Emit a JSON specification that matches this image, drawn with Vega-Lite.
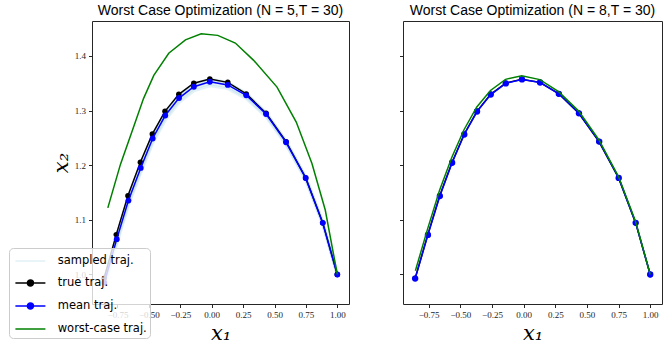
{
  "$schema": "https://vega.github.io/schema/vega-lite/v6.json",
  "background": "white",
  "padding": {"left": 8, "top": 3, "right": 4, "bottom": 2},
  "spacing": 48,
  "config": {
    "view": {"stroke": "#262626", "strokeWidth": 1},
    "axis": {"grid": false, "domain": false, "tickColor": "#262626", "tickSize": 3.5, "tickWidth": 1, "labelFont": "Liberation Serif", "labelFontSize": 9, "labelColor": "#262626", "titleFont": "DejaVu Serif", "titleFontStyle": "italic", "titleFontWeight": "normal", "titleFontSize": 21, "titleColor": "black"},
    "title": {"font": "Liberation Sans", "fontSize": 14, "fontWeight": "normal", "color": "black", "offset": 3, "anchor": "middle"}
  },
  "resolve": {"scale": {"color": "independent", "x": "independent", "y": "independent"}, "legend": {"color": "independent"}},
  "datasets": {
    "d": [
      {"p":"L","s":"true traj.","r":"t","i":0,"x":-0.857,"y":0.993},
      {"p":"L","s":"true traj.","r":"t","i":1,"x":-0.760,"y":1.073},
      {"p":"L","s":"true traj.","r":"t","i":2,"x":-0.667,"y":1.144},
      {"p":"L","s":"true traj.","r":"t","i":3,"x":-0.568,"y":1.2055},
      {"p":"L","s":"true traj.","r":"t","i":4,"x":-0.473,"y":1.257},
      {"p":"L","s":"true traj.","r":"t","i":5,"x":-0.372,"y":1.2987},
      {"p":"L","s":"true traj.","r":"t","i":6,"x":-0.262,"y":1.3298},
      {"p":"L","s":"true traj.","r":"t","i":7,"x":-0.143,"y":1.3502},
      {"p":"L","s":"true traj.","r":"t","i":8,"x":-0.015,"y":1.3578},
      {"p":"L","s":"true traj.","r":"t","i":9,"x":0.128,"y":1.3517},
      {"p":"L","s":"true traj.","r":"t","i":10,"x":0.275,"y":1.3306},
      {"p":"L","s":"true traj.","r":"t","i":11,"x":0.433,"y":1.2951},
      {"p":"L","s":"true traj.","r":"t","i":12,"x":0.592,"y":1.2432},
      {"p":"L","s":"true traj.","r":"t","i":13,"x":0.748,"y":1.1768},
      {"p":"L","s":"true traj.","r":"t","i":14,"x":0.884,"y":1.0945},
      {"p":"L","s":"true traj.","r":"t","i":15,"x":1.0,"y":1.0},

      {"p":"L","s":"mean traj.","r":"m","i":0,"x":-0.855,"y":0.985},
      {"p":"L","s":"mean traj.","r":"m","i":1,"x":-0.756,"y":1.0647},
      {"p":"L","s":"mean traj.","r":"m","i":2,"x":-0.663,"y":1.1353},
      {"p":"L","s":"mean traj.","r":"m","i":3,"x":-0.565,"y":1.1951},
      {"p":"L","s":"mean traj.","r":"m","i":4,"x":-0.470,"y":1.249},
      {"p":"L","s":"mean traj.","r":"m","i":5,"x":-0.370,"y":1.291},
      {"p":"L","s":"mean traj.","r":"m","i":6,"x":-0.260,"y":1.323},
      {"p":"L","s":"mean traj.","r":"m","i":7,"x":-0.142,"y":1.3437},
      {"p":"L","s":"mean traj.","r":"m","i":8,"x":-0.015,"y":1.3528},
      {"p":"L","s":"mean traj.","r":"m","i":9,"x":0.128,"y":1.347},
      {"p":"L","s":"mean traj.","r":"m","i":10,"x":0.275,"y":1.328},
      {"p":"L","s":"mean traj.","r":"m","i":11,"x":0.433,"y":1.2937},
      {"p":"L","s":"mean traj.","r":"m","i":12,"x":0.592,"y":1.242},
      {"p":"L","s":"mean traj.","r":"m","i":13,"x":0.748,"y":1.1768},
      {"p":"L","s":"mean traj.","r":"m","i":14,"x":0.884,"y":1.0945},
      {"p":"L","s":"mean traj.","r":"m","i":15,"x":1.0,"y":1.0},

      {"p":"L","s":"worst-case traj.","r":"w","i":0,"x":-0.827,"y":1.122},
      {"p":"L","s":"worst-case traj.","r":"w","i":1,"x":-0.726,"y":1.202},
      {"p":"L","s":"worst-case traj.","r":"w","i":2,"x":-0.622,"y":1.270},
      {"p":"L","s":"worst-case traj.","r":"w","i":3,"x":-0.543,"y":1.322},
      {"p":"L","s":"worst-case traj.","r":"w","i":4,"x":-0.461,"y":1.3645},
      {"p":"L","s":"worst-case traj.","r":"w","i":5,"x":-0.342,"y":1.405},
      {"p":"L","s":"worst-case traj.","r":"w","i":6,"x":-0.209,"y":1.4296},
      {"p":"L","s":"worst-case traj.","r":"w","i":7,"x":-0.084,"y":1.4406},
      {"p":"L","s":"worst-case traj.","r":"w","i":8,"x":0.048,"y":1.4377},
      {"p":"L","s":"worst-case traj.","r":"w","i":9,"x":0.188,"y":1.4236},
      {"p":"L","s":"worst-case traj.","r":"w","i":10,"x":0.334,"y":1.392},
      {"p":"L","s":"worst-case traj.","r":"w","i":11,"x":0.520,"y":1.343},
      {"p":"L","s":"worst-case traj.","r":"w","i":12,"x":0.673,"y":1.279},
      {"p":"L","s":"worst-case traj.","r":"w","i":13,"x":0.798,"y":1.203},
      {"p":"L","s":"worst-case traj.","r":"w","i":14,"x":0.904,"y":1.118},
      {"p":"L","s":"worst-case traj.","r":"w","i":15,"x":1.0,"y":1.0},

      {"p":"L","s":"sampled traj.","r":"s1","i":0,"x":-0.860,"y":0.970},
      {"p":"L","s":"sampled traj.","r":"s1","i":1,"x":-0.756,"y":1.0557},
      {"p":"L","s":"sampled traj.","r":"s1","i":2,"x":-0.663,"y":1.1263},
      {"p":"L","s":"sampled traj.","r":"s1","i":3,"x":-0.565,"y":1.1861},
      {"p":"L","s":"sampled traj.","r":"s1","i":4,"x":-0.470,"y":1.240},
      {"p":"L","s":"sampled traj.","r":"s1","i":5,"x":-0.370,"y":1.282},
      {"p":"L","s":"sampled traj.","r":"s1","i":6,"x":-0.260,"y":1.3148},
      {"p":"L","s":"sampled traj.","r":"s1","i":7,"x":-0.142,"y":1.3362},
      {"p":"L","s":"sampled traj.","r":"s1","i":8,"x":-0.015,"y":1.3453},
      {"p":"L","s":"sampled traj.","r":"s1","i":9,"x":0.128,"y":1.3403},
      {"p":"L","s":"sampled traj.","r":"s1","i":10,"x":0.275,"y":1.322},
      {"p":"L","s":"sampled traj.","r":"s1","i":11,"x":0.433,"y":1.2885},
      {"p":"L","s":"sampled traj.","r":"s1","i":12,"x":0.592,"y":1.2375},
      {"p":"L","s":"sampled traj.","r":"s1","i":13,"x":0.748,"y":1.1731},
      {"p":"L","s":"sampled traj.","r":"s1","i":14,"x":0.884,"y":1.0915},
      {"p":"L","s":"sampled traj.","r":"s1","i":15,"x":1.0,"y":1.0},

      {"p":"L","s":"sampled traj.","r":"s2","i":0,"x":-0.858,"y":0.978},
      {"p":"L","s":"sampled traj.","r":"s2","i":1,"x":-0.756,"y":1.0605},
      {"p":"L","s":"sampled traj.","r":"s2","i":2,"x":-0.663,"y":1.1311},
      {"p":"L","s":"sampled traj.","r":"s2","i":3,"x":-0.565,"y":1.1909},
      {"p":"L","s":"sampled traj.","r":"s2","i":4,"x":-0.470,"y":1.2448},
      {"p":"L","s":"sampled traj.","r":"s2","i":5,"x":-0.370,"y":1.2868},
      {"p":"L","s":"sampled traj.","r":"s2","i":6,"x":-0.260,"y":1.3191},
      {"p":"L","s":"sampled traj.","r":"s2","i":7,"x":-0.142,"y":1.3402},
      {"p":"L","s":"sampled traj.","r":"s2","i":8,"x":-0.015,"y":1.3493},
      {"p":"L","s":"sampled traj.","r":"s2","i":9,"x":0.128,"y":1.3438},
      {"p":"L","s":"sampled traj.","r":"s2","i":10,"x":0.275,"y":1.3252},
      {"p":"L","s":"sampled traj.","r":"s2","i":11,"x":0.433,"y":1.2912},
      {"p":"L","s":"sampled traj.","r":"s2","i":12,"x":0.592,"y":1.2399},
      {"p":"L","s":"sampled traj.","r":"s2","i":13,"x":0.748,"y":1.175},
      {"p":"L","s":"sampled traj.","r":"s2","i":14,"x":0.884,"y":1.0931},
      {"p":"L","s":"sampled traj.","r":"s2","i":15,"x":1.0,"y":1.0},

      {"p":"L","s":"sampled traj.","r":"s3","i":0,"x":-0.853,"y":0.989},
      {"p":"L","s":"sampled traj.","r":"s3","i":1,"x":-0.756,"y":1.0671},
      {"p":"L","s":"sampled traj.","r":"s3","i":2,"x":-0.663,"y":1.1377},
      {"p":"L","s":"sampled traj.","r":"s3","i":3,"x":-0.565,"y":1.1975},
      {"p":"L","s":"sampled traj.","r":"s3","i":4,"x":-0.470,"y":1.2514},
      {"p":"L","s":"sampled traj.","r":"s3","i":5,"x":-0.370,"y":1.2934},
      {"p":"L","s":"sampled traj.","r":"s3","i":6,"x":-0.260,"y":1.3252},
      {"p":"L","s":"sampled traj.","r":"s3","i":7,"x":-0.142,"y":1.3457},
      {"p":"L","s":"sampled traj.","r":"s3","i":8,"x":-0.015,"y":1.3548},
      {"p":"L","s":"sampled traj.","r":"s3","i":9,"x":0.128,"y":1.3488},
      {"p":"L","s":"sampled traj.","r":"s3","i":10,"x":0.275,"y":1.3296},
      {"p":"L","s":"sampled traj.","r":"s3","i":11,"x":0.433,"y":1.2951},
      {"p":"L","s":"sampled traj.","r":"s3","i":12,"x":0.592,"y":1.2432},
      {"p":"L","s":"sampled traj.","r":"s3","i":13,"x":0.748,"y":1.1778},
      {"p":"L","s":"sampled traj.","r":"s3","i":14,"x":0.884,"y":1.0953},
      {"p":"L","s":"sampled traj.","r":"s3","i":15,"x":1.0,"y":1.0},

      {"p":"L","s":"sampled traj.","r":"s4","i":0,"x":-0.850,"y":0.995},
      {"p":"L","s":"sampled traj.","r":"s4","i":1,"x":-0.756,"y":1.0707},
      {"p":"L","s":"sampled traj.","r":"s4","i":2,"x":-0.663,"y":1.1413},
      {"p":"L","s":"sampled traj.","r":"s4","i":3,"x":-0.565,"y":1.2011},
      {"p":"L","s":"sampled traj.","r":"s4","i":4,"x":-0.470,"y":1.255},
      {"p":"L","s":"sampled traj.","r":"s4","i":5,"x":-0.370,"y":1.297},
      {"p":"L","s":"sampled traj.","r":"s4","i":6,"x":-0.260,"y":1.3285},
      {"p":"L","s":"sampled traj.","r":"s4","i":7,"x":-0.142,"y":1.3487},
      {"p":"L","s":"sampled traj.","r":"s4","i":8,"x":-0.015,"y":1.3578},
      {"p":"L","s":"sampled traj.","r":"s4","i":9,"x":0.128,"y":1.3515},
      {"p":"L","s":"sampled traj.","r":"s4","i":10,"x":0.275,"y":1.332},
      {"p":"L","s":"sampled traj.","r":"s4","i":11,"x":0.433,"y":1.2972},
      {"p":"L","s":"sampled traj.","r":"s4","i":12,"x":0.592,"y":1.245},
      {"p":"L","s":"sampled traj.","r":"s4","i":13,"x":0.748,"y":1.1793},
      {"p":"L","s":"sampled traj.","r":"s4","i":14,"x":0.884,"y":1.0965},
      {"p":"L","s":"sampled traj.","r":"s4","i":15,"x":1.0,"y":1.0},

      {"p":"R","s":"true traj.","r":"t","i":0,"x":-0.857,"y":0.993},
      {"p":"R","s":"true traj.","r":"t","i":1,"x":-0.757,"y":1.073},
      {"p":"R","s":"true traj.","r":"t","i":2,"x":-0.663,"y":1.144},
      {"p":"R","s":"true traj.","r":"t","i":3,"x":-0.566,"y":1.2050},
      {"p":"R","s":"true traj.","r":"t","i":4,"x":-0.470,"y":1.2567},
      {"p":"R","s":"true traj.","r":"t","i":5,"x":-0.369,"y":1.2987},
      {"p":"R","s":"true traj.","r":"t","i":6,"x":-0.261,"y":1.3298},
      {"p":"R","s":"true traj.","r":"t","i":7,"x":-0.142,"y":1.3502},
      {"p":"R","s":"true traj.","r":"t","i":8,"x":-0.014,"y":1.3575},
      {"p":"R","s":"true traj.","r":"t","i":9,"x":0.129,"y":1.3517},
      {"p":"R","s":"true traj.","r":"t","i":10,"x":0.277,"y":1.3309},
      {"p":"R","s":"true traj.","r":"t","i":11,"x":0.436,"y":1.2951},
      {"p":"R","s":"true traj.","r":"t","i":12,"x":0.595,"y":1.2433},
      {"p":"R","s":"true traj.","r":"t","i":13,"x":0.750,"y":1.1768},
      {"p":"R","s":"true traj.","r":"t","i":14,"x":0.885,"y":1.0945},
      {"p":"R","s":"true traj.","r":"t","i":15,"x":1.0,"y":1.0},

      {"p":"R","s":"mean traj.","r":"m","i":0,"x":-0.857,"y":0.9925},
      {"p":"R","s":"mean traj.","r":"m","i":1,"x":-0.756,"y":1.0725},
      {"p":"R","s":"mean traj.","r":"m","i":2,"x":-0.662,"y":1.1435},
      {"p":"R","s":"mean traj.","r":"m","i":3,"x":-0.565,"y":1.2045},
      {"p":"R","s":"mean traj.","r":"m","i":4,"x":-0.469,"y":1.2563},
      {"p":"R","s":"mean traj.","r":"m","i":5,"x":-0.368,"y":1.2983},
      {"p":"R","s":"mean traj.","r":"m","i":6,"x":-0.260,"y":1.3294},
      {"p":"R","s":"mean traj.","r":"m","i":7,"x":-0.141,"y":1.3498},
      {"p":"R","s":"mean traj.","r":"m","i":8,"x":-0.013,"y":1.3571},
      {"p":"R","s":"mean traj.","r":"m","i":9,"x":0.130,"y":1.3514},
      {"p":"R","s":"mean traj.","r":"m","i":10,"x":0.278,"y":1.3307},
      {"p":"R","s":"mean traj.","r":"m","i":11,"x":0.437,"y":1.2950},
      {"p":"R","s":"mean traj.","r":"m","i":12,"x":0.597,"y":1.2433},
      {"p":"R","s":"mean traj.","r":"m","i":13,"x":0.751,"y":1.1768},
      {"p":"R","s":"mean traj.","r":"m","i":14,"x":0.885,"y":1.0945},
      {"p":"R","s":"mean traj.","r":"m","i":15,"x":1.0,"y":1.0},

      {"p":"R","s":"worst-case traj.","r":"w","i":0,"x":-0.855,"y":1.007},
      {"p":"R","s":"worst-case traj.","r":"w","i":1,"x":-0.758,"y":1.084},
      {"p":"R","s":"worst-case traj.","r":"w","i":2,"x":-0.664,"y":1.154},
      {"p":"R","s":"worst-case traj.","r":"w","i":3,"x":-0.567,"y":1.2145},
      {"p":"R","s":"worst-case traj.","r":"w","i":4,"x":-0.471,"y":1.265},
      {"p":"R","s":"worst-case traj.","r":"w","i":5,"x":-0.370,"y":1.3067},
      {"p":"R","s":"worst-case traj.","r":"w","i":6,"x":-0.262,"y":1.3368},
      {"p":"R","s":"worst-case traj.","r":"w","i":7,"x":-0.143,"y":1.3572},
      {"p":"R","s":"worst-case traj.","r":"w","i":8,"x":-0.015,"y":1.3638},
      {"p":"R","s":"worst-case traj.","r":"w","i":9,"x":0.128,"y":1.3567},
      {"p":"R","s":"worst-case traj.","r":"w","i":10,"x":0.276,"y":1.3346},
      {"p":"R","s":"worst-case traj.","r":"w","i":11,"x":0.435,"y":1.2991},
      {"p":"R","s":"worst-case traj.","r":"w","i":12,"x":0.595,"y":1.2462},
      {"p":"R","s":"worst-case traj.","r":"w","i":13,"x":0.750,"y":1.1788},
      {"p":"R","s":"worst-case traj.","r":"w","i":14,"x":0.885,"y":1.0965},
      {"p":"R","s":"worst-case traj.","r":"w","i":15,"x":1.0,"y":1.0}
    ]
  },
  "hconcat": [
    {
      "width": 257,
      "height": 283,
      "title": "Worst Case Optimization (N = 5,T = 30)",
      "data": {"name": "d"},
      "transform": [{"filter": "datum.p === 'L'"}],
      "encoding": {
        "x": {"field": "x", "type": "quantitative", "scale": {"domain": [-0.953, 1.093], "nice": false, "zero": false},
              "axis": {"values": [-0.75, -0.5, -0.25, 0, 0.25, 0.5, 0.75, 1], "format": ".2f", "title": "x₁", "labelPadding": 3, "titlePadding": 3}},
        "y": {"field": "y", "type": "quantitative", "scale": {"domain": [0.946, 1.464], "nice": false, "zero": false},
              "axis": {"values": [1.0, 1.1, 1.2, 1.3, 1.4], "format": ".1f", "title": "x₂", "titleAngle": -90, "titleBaseline": "bottom", "labelPadding": 3, "titlePadding": 3}},
        "order": {"field": "i", "type": "quantitative"},
        "detail": {"field": "r", "type": "nominal"},
        "color": {"field": "s", "type": "nominal",
          "scale": {"domain": ["sampled traj.", "true traj.", "mean traj.", "worst-case traj."], "range": ["#add8e6", "#000000", "#0000ff", "#008000"]},
          "legend": {
            "title": null, "orient": "none", "legendX": -83, "legendY": 227,
            "padding": 3, "symbolSize": 324, "rowPadding": 6, "labelOffset": 25.7,
            "labelFont": "DejaVu Sans", "labelFontSize": 11.5, "labelColor": "black", "labelLimit": 300,
            "fillColor": "rgba(255,255,255,0.8)", "strokeColor": "#cccccc", "cornerRadius": 4,
            "encode": {"symbols": {"update": {
              "shape": {"signal": "(datum.value === 'true traj.' || datum.value === 'mean traj.') ? 'M-0.733,0L2.6,0M0.6,0A0.333,0.333,0,1,1,1.267,0A0.333,0.333,0,1,1,0.6,0Z' : 'M-0.733,0L2.6,0'"},
              "fill": {"signal": "datum.value === 'true traj.' ? '#000000' : datum.value === 'mean traj.' ? '#0000ff' : 'transparent'"},
              "stroke": {"signal": "datum.value === 'sampled traj.' ? '#add8e6' : datum.value === 'true traj.' ? '#000000' : datum.value === 'mean traj.' ? '#0000ff' : '#008000'"},
              "opacity": {"signal": "datum.value === 'sampled traj.' ? 0.35 : 1"},
              "strokeWidth": {"value": 1.5}
            }}}
          }
        }
      },
      "layer": [
        {"transform": [{"filter": "datum.s === 'sampled traj.'"}], "mark": {"type": "line", "strokeWidth": 3, "opacity": 0.35}},
        {"transform": [{"filter": "datum.s === 'true traj.'"}], "mark": {"type": "line", "strokeWidth": 1.5, "point": {"filled": true, "size": 30}}},
        {"transform": [{"filter": "datum.s === 'mean traj.'"}], "mark": {"type": "line", "strokeWidth": 1.5, "point": {"filled": true, "size": 34}}},
        {"transform": [{"filter": "datum.s === 'worst-case traj.'"}], "mark": {"type": "line", "strokeWidth": 1.5}}
      ]
    },
    {
      "width": 259,
      "height": 283,
      "title": "Worst Case Optimization (N = 8,T = 30)",
      "data": {"name": "d"},
      "transform": [{"filter": "datum.p === 'R'"}],
      "encoding": {
        "x": {"field": "x", "type": "quantitative", "scale": {"domain": [-0.953, 1.093], "nice": false, "zero": false},
              "axis": {"values": [-0.75, -0.5, -0.25, 0, 0.25, 0.5, 0.75, 1], "format": ".2f", "title": "x₁", "labelPadding": 3, "titlePadding": 3}},
        "y": {"field": "y", "type": "quantitative", "scale": {"domain": [0.946, 1.464], "nice": false, "zero": false},
              "axis": {"values": [1.0, 1.1, 1.2, 1.3, 1.4], "labels": false, "title": null}},
        "order": {"field": "i", "type": "quantitative"},
        "detail": {"field": "r", "type": "nominal"},
        "color": {"field": "s", "type": "nominal",
          "scale": {"domain": ["sampled traj.", "true traj.", "mean traj.", "worst-case traj."], "range": ["#add8e6", "#000000", "#0000ff", "#008000"]},
          "legend": null}
      },
      "layer": [
        {"transform": [{"filter": "datum.s === 'true traj.'"}], "mark": {"type": "line", "strokeWidth": 1.5, "point": {"filled": true, "size": 30}}},
        {"transform": [{"filter": "datum.s === 'mean traj.'"}], "mark": {"type": "line", "strokeWidth": 1.5, "point": {"filled": true, "size": 40}}},
        {"transform": [{"filter": "datum.s === 'worst-case traj.'"}], "mark": {"type": "line", "strokeWidth": 1.5}}
      ]
    }
  ]
}
